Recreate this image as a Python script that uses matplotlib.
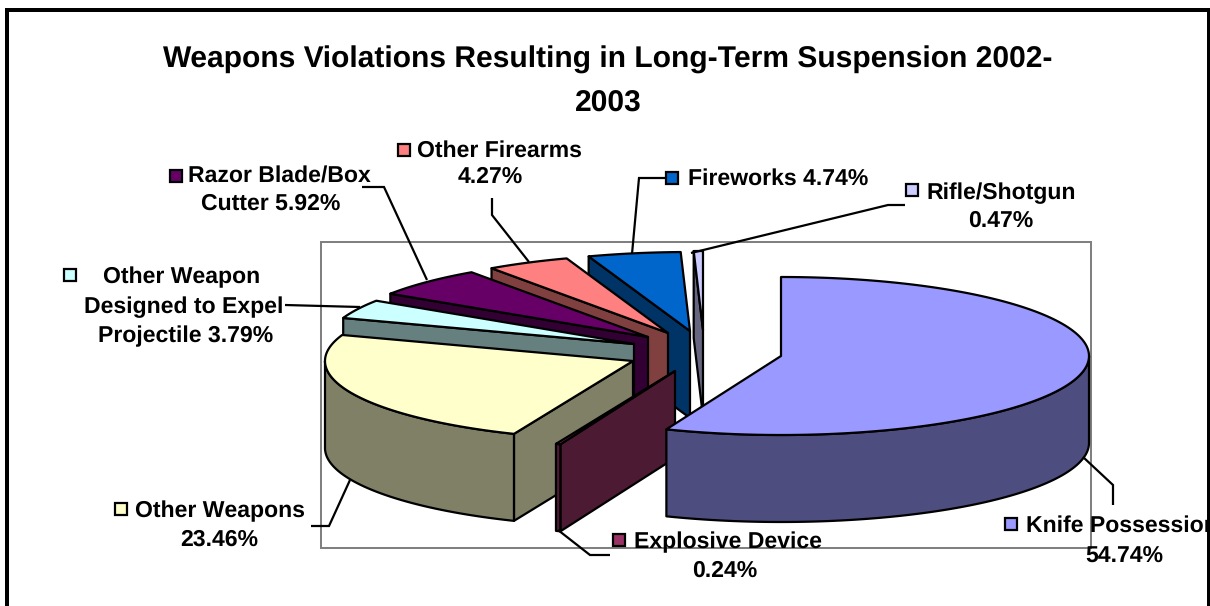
import numpy as np
import matplotlib
matplotlib.use("Agg")
import matplotlib.pyplot as plt
from matplotlib.patches import Polygon, Rectangle

plt.rcParams["text.hinting"] = "no_hinting"
plt.rcParams["text.hinting_factor"] = 1

# ---- data ----
categories = ["Knife Possession", "Explosive Device", "Other Weapons",
              "Other Weapon Designed to Expel Projectile", "Razor Blade/Box Cutter",
              "Other Firearms", "Fireworks", "Rifle/Shotgun"]
values = [54.74, 0.24, 23.46, 3.79, 5.92, 4.27, 4.74, 0.47]
title = "Weapons Violations Resulting in Long-Term Suspension 2002-\n2003"

# ---- style ----
top_colors = ["#9999FF", "#993366", "#FFFFCC", "#CCFFFF", "#660066", "#FF8080", "#0066CC", "#CCCCFF"]
side_colors = ["#4D4D80", "#4D1A33", "#808066", "#668080", "#330033", "#804040", "#003366", "#666680"]
apex_x = [781, 675, 633, 634, 648, 668, 690, 703]
apex_y = [356, 371, 361, 344, 337, 333, 331, 330]
RX, RY, DEPTH = 308, 79, 87
LW = 1.6
FONT = "Liberation Sans"

fig = plt.figure(figsize=(12.1, 6.06), dpi=100)
ax = fig.add_axes([0, 0, 1, 1])
ax.set_xlim(0, 1210)
ax.set_ylim(606, 0)
ax.axis("off")

# plot-area frame
ax.add_patch(Rectangle((321, 242), 770, 306, fill=False, ec="#808080", lw=1.45, zorder=1))


def rim(cx, cy, t):
    return cx + RX * np.sin(t), cy - RY * np.cos(t)


def poly(xs, ys, fc, z):
    ax.add_patch(Polygon(np.column_stack([xs, ys]), closed=True, fc=fc, ec="black",
                         lw=LW, joinstyle="round", zorder=z))


fractions = np.array(values) / np.sum(values)
edges = np.concatenate([[0], np.cumsum(fractions)]) * 2 * np.pi

# draw from the back-most slice to the knife slice
for z, i in enumerate(range(len(values) - 1, -1, -1)):
    t0, t1 = edges[i], edges[i + 1]
    cx, cy = apex_x[i], apex_y[i]
    base = 2 + z
    # radial faces
    if np.sin(t0) < -1e-6:
        px, py = rim(cx, cy, t0)
        poly([cx, px, px, cx], [cy, py, py + DEPTH, cy + DEPTH], side_colors[i], base)
    if np.sin(t1) > 1e-6:
        px, py = rim(cx, cy, t1)
        poly([cx, px, px, cx], [cy, py, py + DEPTH, cy + DEPTH], side_colors[i], base)
    # outer wall (front half only)
    a, b = max(t0, np.pi / 2), min(t1, 3 * np.pi / 2)
    if b > a:
        tt = np.linspace(a, b, 120)
        px, py = rim(cx, cy, tt)
        poly(np.r_[px, px[::-1]], np.r_[py, py[::-1] + DEPTH], side_colors[i], base)
    # top face
    tt = np.linspace(t0, t1, 240)
    px, py = rim(cx, cy, tt)
    poly(np.r_[cx, px], np.r_[cy, py], top_colors[i], base + 0.5)

# leader lines
leaders = [
    ([1083, 1113, 1113], [457, 485, 505]),
    ([558, 590, 610], [530, 555, 555]),
    ([350, 329, 311], [480, 526, 526]),
    ([360, 322, 285], [307, 306, 305]),
    ([427, 384, 362], [280, 187, 187]),
    ([529, 492, 492], [262, 215, 198]),
    ([632, 639, 665], [254, 178, 178]),
    ([691, 888, 905], [253, 205, 205]),
]
for xs, ys in leaders:
    ax.plot(xs, ys, color="black", lw=LW, solid_capstyle="butt", solid_joinstyle="miter", zorder=20)

# labels: key position and text lines
def pct(i):
    return f"{values[i]:.2f}%"


TXT = dict(family=FONT, weight="bold", fontsize=16.3, color="black", va="center", zorder=22)
keys = [(1011, 524), (619, 540), (121, 509), (70, 275), (176, 176), (404, 150), (672, 178), (912, 190)]
for i, (kx, ky) in enumerate(keys):
    ax.add_patch(Rectangle((kx - 6, ky - 6), 12, 12, fc=top_colors[i], ec="black", lw=LW, zorder=21))

lines = [
    (1026, 526, "left", "Knife Possession"), (1124, 556, "center", pct(0)),
    (634, 542, "left", "Explosive Device"), (725, 571, "center", pct(1)),
    (135, 511, "left", "Other Weapons"), (219, 540, "center", pct(2)),
    (182, 277, "center", "Other Weapon"), (184, 307, "center", "Designed to Expel"),
    (186, 336, "center", "Projectile " + pct(3)),
    (188, 177, "left", "Razor Blade/Box"), (271, 204, "center", "Cutter " + pct(4)),
    (417, 151, "left", "Other Firearms"), (490, 177, "center", pct(5)),
    (688, 179, "left", "Fireworks " + pct(6)),
    (926, 193, "left", "Rifle/Shotgun"), (1001, 221, "center", pct(7)),
]
for x, y, ha, s in lines:
    ax.text(x, y, s, ha=ha, **TXT)

ax.text(608, 82, title, ha="center", va="center", family=FONT, weight="bold",
        fontsize=21.3, linespacing=1.75, zorder=22)

# outer chart border (open at the bottom edge of the picture)
ax.add_patch(Rectangle((5, 8), 4, 598, fc="black", ec="none", zorder=30))
ax.add_patch(Rectangle((5, 8), 1205, 4, fc="black", ec="none", zorder=30))
ax.add_patch(Rectangle((1207, 8), 3, 598, fc="black", ec="none", zorder=30))

fig.savefig("out.png", dpi=100)
